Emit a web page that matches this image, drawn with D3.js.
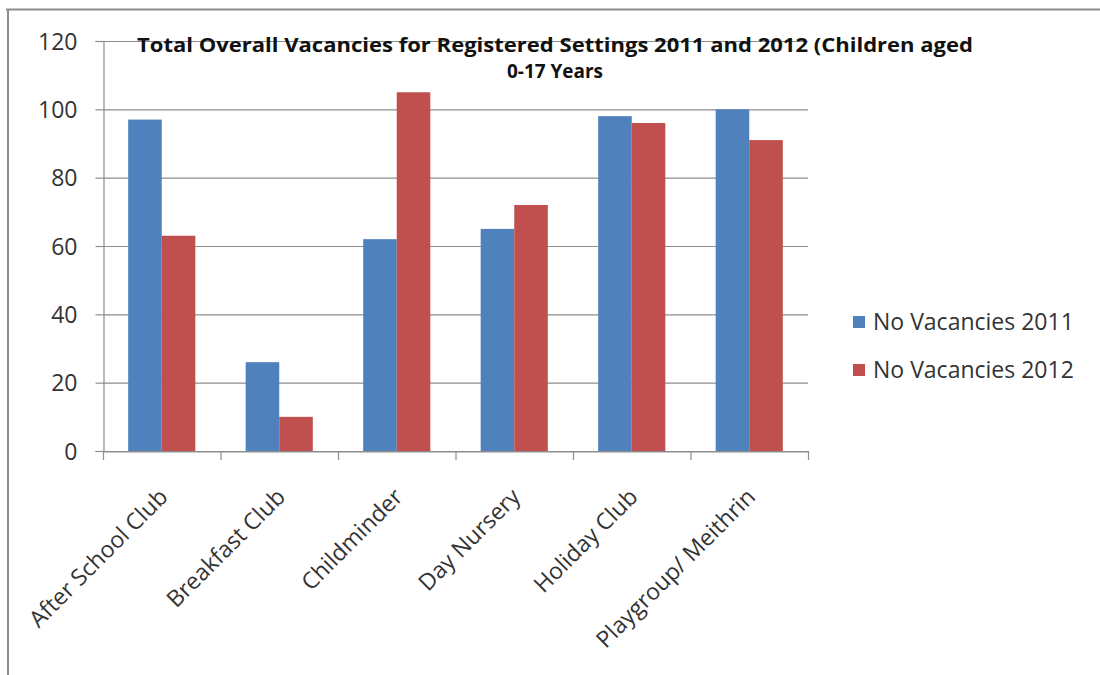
<!DOCTYPE html>
<html><head><meta charset="utf-8">
<script src="https://cdn.jsdelivr.net/npm/d3@7"></script>
<style>
html,body{margin:0;padding:0;background:#fff;}
svg{display:block;font-family:"Open Sans","Noto Sans",sans-serif;}
</style></head>
<body><svg id="c" width="1100" height="675"></svg>
<script>
const categories = ["After School Club","Breakfast Club","Childminder","Day Nursery","Holiday Club","Playgroup/ Meithrin"];
const series2011 = [97,26,62,65,98,100];
const series2012 = [63,10,105,72,96,91];
const seriesNames = ["No Vacancies 2011","No Vacancies 2012"];
const yTicks = [0,20,40,60,80,100,120];
const titleLines = ["Total Overall Vacancies for Registered Settings 2011 and 2012 (Children aged","0-17 Years"];
const colors = ["#4F81BD","#C0504D"];

const svg = d3.select("#c");
// frame
svg.append("line").attr("x1",6).attr("x2",1100).attr("y1",9.5).attr("y2",9.5).attr("stroke","#8c8c8c").attr("stroke-width",2);
svg.append("line").attr("x1",8).attr("x2",8).attr("y1",9).attr("y2",675).attr("stroke","#8c8c8c").attr("stroke-width",2);

const pL=103, pR=808, pT=41, pB=451;
const x = d3.scaleBand().domain(categories).range([pL,pR]).paddingInner(0.4286).paddingOuter(0.2143);
const x0 = d3.scaleBand().domain(categories).range([pL,pR]);
const y = d3.scaleLinear().domain([0,120]).range([pB,pT]);

// gridlines
svg.append("g").selectAll("line").data(yTicks).join("line")
  .attr("x1",pL).attr("x2",pR).attr("y1",d=>y(d)+0.5).attr("y2",d=>y(d)+0.5)
  .attr("stroke","#8e8e8e").attr("stroke-width",1.2);

// y axis
const ya = svg.append("g").attr("transform",`translate(${pL+0.5},0)`)
  .call(d3.axisLeft(y).tickValues(yTicks).tickSize(8).tickPadding(18));
ya.select(".domain").attr("stroke","#8e8e8e").attr("stroke-width",1.2);
ya.selectAll(".tick line").attr("stroke","#8e8e8e").attr("stroke-width",1.2);
ya.selectAll(".tick text").attr("font-size",23).attr("fill","#333").attr("font-family","Open Sans").attr("dy","0.36em");

// x axis
const xa = svg.append("g").attr("transform",`translate(0,${pB+0.5})`)
  .call(d3.axisBottom(x0).tickValues([]).tickSizeOuter(0));
xa.select(".domain").attr("stroke","#8e8e8e").attr("stroke-width",1.2);
const bounds = categories.map(c=>x0(c)).concat([pR]);
svg.append("g").selectAll("line").data(bounds).join("line")
  .attr("x1",d=>d+0.5).attr("x2",d=>d+0.5).attr("y1",pB).attr("y2",pB+9)
  .attr("stroke","#8e8e8e").attr("stroke-width",1.2);

// bars
const xs = d3.scaleBand().domain([0,1]).range([0,x.bandwidth()]);
const g = svg.append("g");
[series2011,series2012].forEach((s,si)=>{
  g.selectAll(".b"+si).data(categories).join("rect")
    .attr("x",(c)=>x(c)+xs(si)).attr("width",xs.bandwidth())
    .attr("y",(c,i)=>y(s[i])).attr("height",(c,i)=>pB-y(s[i]))
    .attr("fill",colors[si]);
});

// x labels
svg.append("g").selectAll("text").data(categories).join("text")
  .attr("transform",c=>`translate(${x0(c)+x0.bandwidth()/2-4},${pB+36}) rotate(-45)`)
  .attr("text-anchor","end").attr("font-size",23).attr("fill","#333")
  .attr("dy","0.7em")
  .text(d=>d);

// title
svg.append("g").selectAll("text").data(titleLines).join("text")
  .attr("x",555).attr("y",(d,i)=>52+i*26).attr("text-anchor","middle")
  .attr("font-size",19).attr("font-weight","bold").attr("fill","#111")
  .attr("font-family","Open Sans")
  .attr("textLength",(d,i)=>i==0?836:96).attr("lengthAdjust","spacingAndGlyphs")
  .text(d=>d);

// legend
const lg = svg.append("g").selectAll("g").data(seriesNames).join("g")
  .attr("transform",(d,i)=>`translate(853,${316+i*48})`);
lg.append("rect").attr("width",12).attr("height",12).attr("fill",(d,i)=>colors[i]);
lg.append("text").attr("x",20).attr("y",6).attr("dy","0.36em").attr("font-size",23).attr("fill","#333").text(d=>d);
</script></body></html>
